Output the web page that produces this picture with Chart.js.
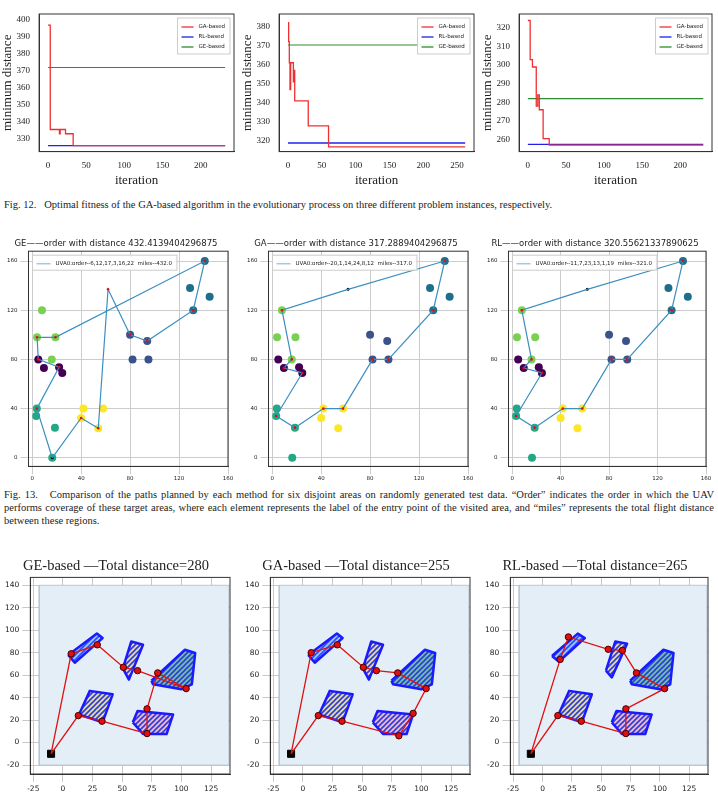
<!DOCTYPE html>
<html><head><meta charset="utf-8">
<script src="https://cdn.jsdelivr.net/npm/chart.js@4.4.1/dist/chart.umd.min.js"></script>
<style>
body{margin:0;background:#fff;width:718px;height:797px;position:relative;overflow:hidden}
.c{position:absolute}
.cap{position:absolute;font-family:"Liberation Serif",serif;font-size:10.5px;color:#222;text-align:justify;line-height:13px}
</style></head><body>
<canvas id="a1" class="c" style="left:0;top:0" width="240" height="192"></canvas>
<canvas id="a2" class="c" style="left:240px;top:0" width="240" height="192"></canvas>
<canvas id="a3" class="c" style="left:480px;top:0" width="238" height="192"></canvas>
<div class="cap" style="left:4px;top:198px;width:710px">Fig. 12.&nbsp;&nbsp;&nbsp;Optimal fitness of the GA-based algorithm in the evolutionary process on three different problem instances, respectively.</div>
<canvas id="b1" class="c" style="left:0;top:238px" width="240" height="245"></canvas>
<canvas id="b2" class="c" style="left:240px;top:238px" width="240" height="245"></canvas>
<canvas id="b3" class="c" style="left:480px;top:238px" width="238" height="245"></canvas>
<div class="cap" style="left:4px;top:488px;width:710px">Fig. 13.&nbsp;&nbsp;&nbsp;Comparison of the paths planned by each method for six disjoint areas on randomly generated test data. “Order” indicates the order in which the UAV performs coverage of these target areas, where each element represents the label of the entry point of the visited area, and “miles” represents the total flight distance between these regions.</div>
<canvas id="c1" class="c" style="left:0;top:555px" width="240" height="242"></canvas>
<canvas id="c2" class="c" style="left:240px;top:555px" width="240" height="242"></canvas>
<canvas id="c3" class="c" style="left:480px;top:555px" width="238" height="242"></canvas>
<script>
// ---------- Fig 12 data ----------
const f1GAx=[0,2,3,14,15,16,22,23,32,33,232];
const f1GAy=[397,397,335.5,335.5,333,335.5,335.5,333,333,326,326];
const f1RL=326, f1GE=372, f1End=232;
const f2GAx=[0,1,2,3,4,7,8,9,10,29,30,59,60,262];
const f2GAy=[382,372,361,347,361,361,351,357,341,341,328,328,317,317];
const f2RL=319, f2GE=370.3, f2End=262;
const f3GAx=[0,2,3,5,6,10,11,12,13,14,15,19,20,27,28,230];
const f3GAy=[324,324,303,303,299,299,278,278,284,284,276,276,260.5,260.5,257,257];
const f3RL=257.4, f3GE=282, f3End=230;
// ---------- Fig 13 data ----------
const clusterColors=['#1f6e8c','#3b528b','#440154','#7ad151','#22a884','#fde725'];
const clusterX=[[141,131.6,129,145],[80,94,82,95],[5,9.6,22,24.6],[8,4,19,16],[3.8,3.3,18.6,16.4],[41.8,57.9,40,54]];
const clusterY=[[160,120,138,131],[100,95,80,80],[80,73,73.6,69],[120,98,98,80],[40,34,24.5,0],[40,40,32.4,24]];
const geRouteX=[16.4,3.8,22,5,4,19,141,131.6,94,80,62,54,40,16.4];
const geRouteY=[0,40,73.6,80,98,98,160,120,95,100,137,24,32.4,0];
const gaRouteX=[62,141,131.6,95,82,57.9,41.8,18.6,3.3,24.6,9.6,16,8,62];
const gaRouteY=[137,160,120,80,80,40,40,24.5,34,69,73,80,120,137];
const rlRouteX=[62,141,131.6,95,82,57.9,41.8,18.6,3.3,24.6,9.6,16,8,62];
const rlRouteY=[137,160,120,80,80,40,40,24.5,34,69,73,80,120,137];
const fig13Titles=['GE——order with distance 432.4139404296875','GA——order with distance 317.2889404296875','RL——order with distance 320.55621337890625'];
const fig13Legends=['UVA0:order--6,12,17,3,16,22  miles--432.0','UVA0:order--20,1,14,24,8,12  miles--317.0','UVA0:order--11,7,23,13,1,19  miles--321.0'];
// ---------- Fig 14 data ----------
const areaAX=[4.5,28.7,33.5,10], areaAY=[78,97,93,71];
const areaARLX=[8,30,36,14], areaARLY=[77,97,93,72];
const areaBX=[50.6,57.7,67.6,55.7], areaBY=[66,90,87,56];
const areaBRLX=[54,62,72,59], areaBRLY=[64,90,88,58];
const areaCX=[74.7,103,111.6,108.8,100,76], areaCY=[55,82.6,79.7,51.8,47.4,51.8];
const areaDX=[13.6,22.7,42,33.5], areaDY=[25,46,43,18];
const areaEX=[59,63,93,87.5,67.6], areaEY=[18,28,25,7.6,7.6];
const geX=[-10,7,29,51,63,104,80,71,71,33,13,-10], geY=[-10,79,87,67,64,48,62,30,8,19,24,-10];
const gaX=[-10,7,29,51,62,80,104,93,81,33,13,-10], gaY=[-10,80,87,67,64,62,48,26,6,19,24,-10];
const rlX=[-10,15,22,56,68,80,104,71,71,33,13,-10], rlY=[-10,74,94,83,82,62,48,30,8,19,24,-10];
const fig14Titles=['GE-based —Total distance=280','GA-based —Total distance=255','RL-based —Total distance=265'];

const serif='"Liberation Serif", serif', sans='"DejaVu Sans", sans-serif';
const xy=(X,Y)=>X.map((x,i)=>({x,y:Y[i]}));
const close=(X,Y)=>xy(X.concat([X[0]]),Y.concat([Y[0]]));

function boxLegend(items,opts){return {id:'bl',afterDraw(ch){const c=ch.ctx,a=ch.chartArea;c.save();c.font=opts.font;
 let w=0;items.forEach(it=>w=Math.max(w,c.measureText(it.t).width));const bw=w+opts.line+14,bh=items.length*opts.lh+6;
 const x=opts.left?a.left+4:a.right-bw-4,y=a.top+4;c.fillStyle='rgba(255,255,255,0.9)';c.strokeStyle='#ccc';c.lineWidth=1;
 c.fillRect(x,y,bw,bh);c.strokeRect(x,y,bw,bh);
 items.forEach((it,i)=>{const yy=y+4+opts.lh*(i+0.5);c.strokeStyle=it.c;c.lineWidth=opts.lw;c.beginPath();c.moveTo(x+4,yy);c.lineTo(x+4+opts.line,yy);c.stroke();
 c.fillStyle='#222';c.textBaseline='middle';c.fillText(it.t,x+opts.line+9,yy);});c.restore();}};}
const frame={id:'frame',afterDraw(ch){const c=ch.ctx,a=ch.chartArea;c.save();c.strokeStyle='#333';c.lineWidth=1;c.strokeRect(a.left,a.top,a.right-a.left,a.bottom-a.top);c.restore();}};

function fig12(id,gx,gy,rl,ge,end,ymin,ymax,ystep){
 new Chart(document.getElementById(id),{type:'line',data:{datasets:[
  {label:'GA-based',data:xy(gx,gy),stepped:'before',borderColor:'#f03030',borderWidth:1.3,pointRadius:0},
  {label:'RL-based',data:[{x:0,y:rl},{x:end,y:rl}],borderColor:'#2020ee',borderWidth:1.3,pointRadius:0},
  {label:'GE-based',data:[{x:0,y:ge},{x:end,y:ge}],borderColor:'#2e8b2e',borderWidth:1.1,pointRadius:0}]},
 options:{animation:false,responsive:false,layout:{padding:{right:6,top:14,left:0,bottom:4}},plugins:{legend:{display:false},tooltip:{enabled:false}},
  scales:{x:{type:'linear',min:-end*0.05,max:end*1.05,afterBuildTicks(s){s.ticks=[0,50,100,150,200,250].filter(v=>v<=end).map(v=>({value:v}));},
    grid:{display:false},border:{color:'#333'},ticks:{font:{family:serif,size:9},color:'#222',padding:1},title:{display:true,text:'iteration',font:{family:serif,size:13},color:'#222',padding:0}},
   y:{min:ymin,max:ymax,afterBuildTicks(s){const t=[];for(let v=Math.ceil(ymin/10)*10;v<=ymax;v+=ystep)t.push({value:v});s.ticks=t;},
    grid:{display:false},border:{color:'#333'},ticks:{font:{family:serif,size:9},color:'#222',padding:1},title:{display:true,text:'minimum distance',font:{family:serif,size:13},color:'#222',padding:0}}}},
 plugins:[frame,boxLegend([{t:'GA-based',c:'#f03030'},{t:'RL-based',c:'#2020ee'},{t:'GE-based',c:'#2e8b2e'}],{font:'5.5px '+sans,lh:10,line:12,lw:1.3})]});
}
fig12('a1',f1GAx,f1GAy,f1RL,f1GE,f1End,322.5,403.5,10);
fig12('a2',f2GAx,f2GAy,f2RL,f2GE,f2End,314.5,386.5,10);
fig12('a3',f3GAx,f3GAy,f3RL,f3GE,f3End,253.5,327.5,10);

function fig13(id,k,rx,ry){
 const ds=[{data:xy(rx,ry).slice(1,-1),showLine:false,pointRadius:1.3,backgroundColor:'#e01010',borderWidth:0},
  {data:xy(rx,ry),showLine:true,borderColor:'#3a8fc0',borderWidth:1.2,pointRadius:0},
  {data:[xy(rx,ry)[0]],showLine:false,pointRadius:1.5,backgroundColor:'#000',borderWidth:0}];
 clusterX.forEach((cx,i)=>ds.push({data:xy(cx,clusterY[i]),showLine:false,pointRadius:4,backgroundColor:clusterColors[i],borderWidth:0}));
 new Chart(document.getElementById(id),{type:'scatter',data:{datasets:ds},
 options:{animation:false,responsive:false,layout:{padding:{right:12,top:0,left:4}},plugins:{legend:{display:false},tooltip:{enabled:false},
   title:{display:true,text:fig13Titles[k],font:{family:sans,size:8.5,weight:'normal'},color:'#222',padding:{top:1,bottom:2}}},
  scales:{x:{min:-3,max:160,afterBuildTicks(s){s.ticks=[0,40,80,120,160].map(v=>({value:v}));},grid:{color:'#ccc'},border:{color:'#333'},ticks:{font:{family:sans,size:5.5},color:'#222',maxRotation:0,padding:1}},
   y:{min:-7,max:168,afterBuildTicks(s){s.ticks=[0,40,80,120,160].map(v=>({value:v}));},grid:{color:'#ccc'},border:{color:'#333'},ticks:{font:{family:sans,size:5.5},color:'#222'}}}},
 plugins:[frame,boxLegend([{t:fig13Legends[k],c:'#9ec9e2'}],{font:'5.5px '+sans,lh:9,line:14,lw:1.5,left:true})]});
}
fig13('b1',0,geRouteX,geRouteY);
fig13('b2',1,gaRouteX,gaRouteY);
fig13('b3',2,rlRouteX,rlRouteY);

function stripes(c1,c2){const p=document.createElement('canvas');p.width=5;p.height=5;const g=p.getContext('2d');
 g.fillStyle=c2;g.fillRect(0,0,5,5);g.strokeStyle=c1;g.lineWidth=1.6;g.beginPath();g.moveTo(0,5);g.lineTo(5,0);g.moveTo(-2.5,2.5);g.lineTo(2.5,-2.5);g.moveTo(2.5,7.5);g.lineTo(7.5,2.5);g.stroke();
 return g.createPattern(p,'repeat');}
function fig14(id,k,px,py,ax,ay,bx,by){
 const poly=(X,Y,c1,c2)=>({data:close(X,Y),fill:'shape',borderColor:'#1a1aff',borderWidth:2.5,borderJoinStyle:'round',backgroundColor:stripes(c1,c2),pointRadius:0,tension:0});
 const ds=[{data:xy(px,py).slice(1,-1),showLine:false,pointRadius:3.2,backgroundColor:'#e01010',borderColor:'#400',borderWidth:1},
  {data:xy(px,py),borderColor:'#e01010',borderWidth:1.3,pointRadius:0},
  {data:[{x:-10,y:-10}],showLine:false,pointStyle:'rect',pointRadius:5,backgroundColor:'#000',borderColor:'#000'},
  poly(ax,ay,'#2a4dff','#9cc3ff'),poly(bx,by,'#2a3de0','#e8d8a0'),poly(areaCX,areaCY,'#1e44d8','#7fb8a8'),
  poly(areaDX,areaDY,'#2a3de0','#e8dc9a'),poly(areaEX,areaEY,'#2a3de0','#f0b8c8'),
  {data:close([-20,140,140,-20],[-20,-20,140,140]),fill:'shape',borderColor:'rgba(180,195,210,0.8)',borderWidth:1,backgroundColor:'#e4eef7',pointRadius:0}];
 new Chart(document.getElementById(id),{type:'line',data:{datasets:ds},
 options:{animation:false,responsive:false,layout:{padding:{right:10,top:0,left:2}},plugins:{legend:{display:false},tooltip:{enabled:false},filler:{propagate:false},
   title:{display:true,text:fig14Titles[k],font:{family:serif,size:14.5,weight:'normal'},color:'#222',padding:{top:2,bottom:3}}},
  scales:{x:{type:'linear',min:-27.5,max:141,afterBuildTicks(s){s.ticks=[-25,0,25,50,75,100,125].map(v=>({value:v}));},grid:{color:'#c8c8c8'},border:{color:'#333'},ticks:{font:{family:sans,size:7.5},color:'#222',maxRotation:0}},
   y:{min:-28,max:147,afterBuildTicks(s){s.ticks=[-20,0,20,40,60,80,100,120,140].map(v=>({value:v}));},grid:{color:'#c8c8c8'},border:{color:'#333'},ticks:{font:{family:sans,size:7.5},color:'#222'}}}},
 plugins:[frame]});
}
fig14('c1',0,geX,geY,areaAX,areaAY,areaBX,areaBY);
fig14('c2',1,gaX,gaY,areaAX,areaAY,areaBX,areaBY);
fig14('c3',2,rlX,rlY,areaARLX,areaARLY,areaBRLX,areaBRLY);
</script></body></html>
